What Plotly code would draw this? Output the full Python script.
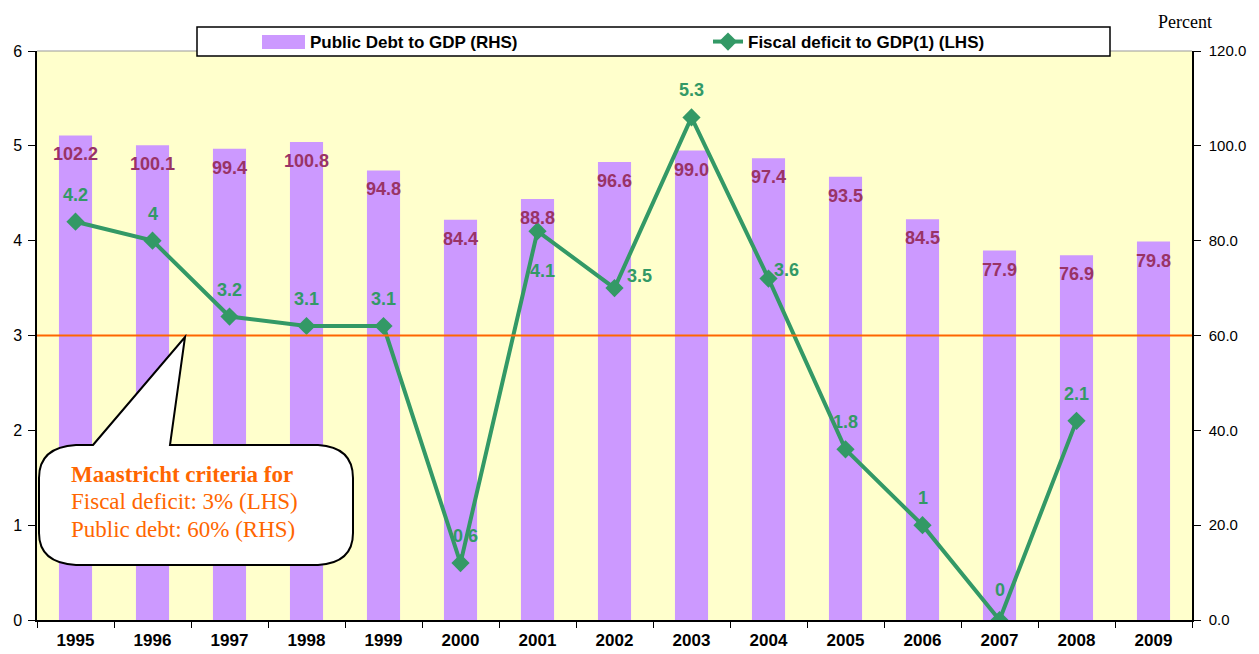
import plotly.graph_objects as go

years = ["1995", "1996", "1997", "1998", "1999", "2000", "2001", "2002",
         "2003", "2004", "2005", "2006", "2007", "2008", "2009"]
public_debt = [102.2, 100.1, 99.4, 100.8, 94.8, 84.4, 88.8, 96.6,
               99.0, 97.4, 93.5, 84.5, 77.9, 76.9, 79.8]
fiscal_deficit = [4.2, 4.0, 3.2, 3.1, 3.1, 0.6, 4.1, 3.5,
                  5.3, 3.6, 1.8, 1.0, 0.0, 2.1, None]
fiscal_labels = ["4.2", "4", "3.2", "3.1", "3.1", "0.6", "4.1", "3.5",
                 "5.3", "3.6", "1.8", "1", "0", "2.1", ""]
left_ticks = [0, 1, 2, 3, 4, 5, 6]
right_ticks = [0, 20, 40, 60, 80, 100, 120]
criteria_deficit = 3
callout_lines = ["Maastricht criteria for", "Fiscal deficit: 3% (LHS)", "Public debt: 60% (RHS)"]

# style settings (label offsets in pixels)
fiscal_label_shift = [(0, 27), (0, 27), (0, 27), (0, 27), (0, 27), (5, 27), (5, -40), (25, 12),
                      (0, 27), (18, 9), (0, 27), (0, 27), (0, 30), (0, 27), (0, 0)]

# page has an 8px body margin; figure is sized so the page matches 1259x654
PAGE_OFF = 8
W, H = 1259 - PAGE_OFF, 654 - PAGE_OFF
L, R, T, B = 37, 1192, 51, 620  # plot area in page pixels


def px_x(p):
    return (p - L) / (R - L)


def px_y(p):
    return (B - p) / (B - T)


SANS = "Liberation Sans, Arial, sans-serif"
SERIF = "Liberation Serif, Times New Roman, serif"
PURPLE = "#CC99FF"
GREEN = "#339966"
ORANGE = "#FF6600"
MAROON = "#993366"

fig = go.Figure()
fig.add_trace(go.Bar(
    x=years, y=public_debt, name="Public Debt to GDP (RHS)",
    marker=dict(color=PURPLE, line=dict(width=0)), width=0.43, yaxis="y",
))
fig.add_trace(go.Scatter(
    x=years, y=fiscal_deficit, name="Fiscal deficit to GDP(1) (LHS)",
    mode="lines+markers", yaxis="y2",
    line=dict(color=GREEN, width=4),
    marker=dict(symbol="diamond", size=14, color=GREEN),
))

annotations = []
for i, v in enumerate(public_debt):
    annotations.append(dict(
        x=i, y=v, xref="x", yref="y", text=f"{v:.1f}", showarrow=False,
        yshift=-19, font=dict(family=SANS, size=18, color=MAROON, weight="bold"),
    ))
for i, (v, t, (dx, dy)) in enumerate(zip(fiscal_deficit, fiscal_labels, fiscal_label_shift)):
    if v is None:
        continue
    annotations.append(dict(
        x=i, y=v, xref="x", yref="y2", text=t, showarrow=False,
        xshift=dx, yshift=dy, font=dict(family=SANS, size=18, color=GREEN, weight="bold"),
    ))

annotations.append(dict(
    x=px_x(1185), y=px_y(22), xref="paper", yref="paper", text="Percent",
    xanchor="center", yanchor="middle",
    showarrow=False, font=dict(family=SERIF, size=18, color="black"),
))

callout_y = [474, 502, 529]
for i, (txt, yy) in enumerate(zip(callout_lines, callout_y)):
    annotations.append(dict(
        x=px_x(69), y=px_y(yy), xref="paper", yref="paper", text=txt,
        xanchor="left", yanchor="middle", showarrow=False,
        font=dict(family=SERIF, size=23, color=ORANGE, weight="bold" if i == 0 else "normal"),
    ))


def pt(x, y):
    return f"{px_x(x):.5f},{px_y(y):.5f}"


bubble = (
    f"M {pt(93, 445)} L {pt(185, 337)} L {pt(170, 445)} L {pt(318, 445)} "
    f"Q {pt(353, 447)} {pt(353, 478)} L {pt(353, 533)} Q {pt(353, 563)} {pt(318, 565)} "
    f"L {pt(76, 565)} Q {pt(39, 563)} {pt(39, 533)} L {pt(39, 478)} "
    f"Q {pt(39, 447)} {pt(76, 445)} Z"
)

shapes = [
    dict(type="line", xref="paper", yref="y2", x0=0, x1=1,
         y0=criteria_deficit, y1=criteria_deficit,
         line=dict(color=ORANGE, width=2), layer="above"),
    dict(type="path", xref="paper", yref="paper", path=bubble,
         fillcolor="white", line=dict(color="black", width=2), layer="above"),
    dict(type="line", xref="paper", yref="paper", x0=0, x1=1, y0=1, y1=1,
         line=dict(color="#999999", width=1), layer="above"),
    dict(type="rect", xref="paper", yref="paper",
         x0=px_x(197), x1=px_x(1110), y0=px_y(56), y1=px_y(27),
         fillcolor="white", line=dict(color="black", width=1.5), layer="above"),
    # wide legend swatch for the bar series (legend's own square sits on top of it)
    dict(type="rect", xref="paper", yref="paper",
         x0=px_x(262), x1=px_x(305), y0=px_y(49), y1=px_y(35),
         fillcolor=PURPLE, line=dict(width=0), layer="above"),
]

fig.update_layout(
    width=W, height=H,
    margin=dict(l=L - PAGE_OFF, r=W - (R - PAGE_OFF), t=T - PAGE_OFF,
                b=H - (B - PAGE_OFF), autoexpand=False),
    paper_bgcolor="white", plot_bgcolor="#FFFFCC",
    showlegend=True,
    legend=dict(
        orientation="h", x=px_x(270), y=px_y(24), xanchor="left", yanchor="top",
        bgcolor="rgba(0,0,0,0)", borderwidth=0,
        font=dict(family=SANS, size=17, color="black", weight="bold"),
        entrywidth=393, entrywidthmode="pixels", itemwidth=30,
    ),
    xaxis=dict(
        type="category", range=[-0.5, len(years) - 0.5],
        tickson="boundaries", ticks="outside", ticklen=6,
        tickcolor="black", showline=True, linecolor="black", linewidth=1.5,
        showgrid=False, zeroline=False, ticklabelstandoff=4,
        tickfont=dict(family=SANS, size=17, color="black", weight="bold"),
    ),
    yaxis=dict(
        side="right", range=[0, 120], tickvals=right_ticks,
        ticktext=[f"{v:.1f}" for v in right_ticks],
        ticks="outside", ticklen=7, tickcolor="black",
        showline=True, linecolor="black", linewidth=1.5,
        showgrid=False, zeroline=False, ticklabelstandoff=5,
        tickfont=dict(family=SANS, size=15, color="black"),
    ),
    yaxis2=dict(
        overlaying="y", side="left", range=[0, 6], tickvals=left_ticks,
        ticks="outside", ticklen=7, tickcolor="black",
        showline=True, linecolor="black", linewidth=1.5,
        showgrid=False, zeroline=False, ticklabelstandoff=3,
        tickfont=dict(family=SANS, size=16, color="black"),
    ),
    annotations=annotations,
    shapes=shapes,
)

fig.write_html("out.html")
